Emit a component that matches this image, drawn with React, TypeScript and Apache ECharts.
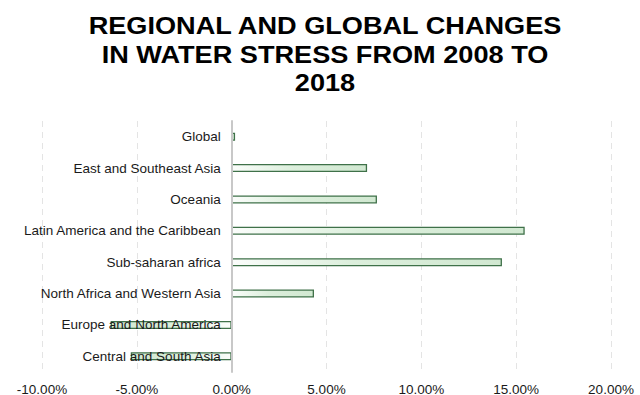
import React, { useEffect, useRef } from "react";
import * as echarts from "echarts";

const TITLE = "REGIONAL AND GLOBAL CHANGES\nIN WATER STRESS FROM 2008 TO\n2018";
const categories = [
  "Central and South Asia",
  "Europe and North America",
  "North Africa and Western Asia",
  "Sub-saharan africa",
  "Latin America and the Caribbean",
  "Oceania",
  "East and Southeast Asia",
  "Global",
];
const values = [-5.32, -6.38, 4.34, 14.25, 15.45, 7.66, 7.14, 0.18];
const xMin = -10;
const xMax = 20;
const xInterval = 5;

const FONT = "'Liberation Sans', Arial, Helvetica, sans-serif";
const GRID_LEFT = 42;
const GRID_RIGHT = 29;
const W = 640;

function barFill(v: number) {
  const stops = [
    { offset: 0, color: "#fbfdfb" },
    { offset: 0.45, color: "#dcefdc" },
    { offset: 1, color: "#d1e8d1" },
  ];
  const s = v >= 0 ? stops : stops.map((c) => ({ offset: 1 - c.offset, color: c.color })).reverse();
  return new echarts.graphic.LinearGradient(0, 0, 1, 0, s);
}

export default function App() {
  const ref = useRef<HTMLDivElement>(null);
  useEffect(() => {
    if (!ref.current) return;
    const chart = echarts.init(ref.current, null, { renderer: "svg" });
    const plotW = W - GRID_LEFT - GRID_RIGHT;
    const zeroOffset = ((0 - xMin) / (xMax - xMin)) * plotW;
    chart.setOption({
      animation: false,
      backgroundColor: "#ffffff",
      graphic: [
        {
          type: "text",
          x: 325,
          y: 12,
          scaleX: 1.18,
          style: {
            text: TITLE,
            font: "bold 23px " + FONT,
            fill: "#000000",
            align: "center",
            verticalAlign: "top",
            lineHeight: 28.5,
          },
        },
      ],
      grid: { left: GRID_LEFT, right: GRID_RIGHT, top: 121, bottom: 23, containLabel: false, outerBoundsMode: "none" },
      xAxis: {
        type: "value",
        min: xMin,
        max: xMax,
        interval: xInterval,
        axisLine: { show: false },
        axisTick: { show: false },
        axisLabel: {
          formatter: (v: number) => v.toFixed(2) + "%",
          fontFamily: FONT,
          fontSize: 13.5,
          color: "#1a1a1a",
          margin: 10,
        },
        splitLine: { show: true, lineStyle: { type: [6, 5], color: "#e4e4e4", width: 1 } },
      },
      yAxis: {
        type: "category",
        data: categories,
        offset: -zeroOffset,
        z: 5,
        axisLine: { show: true, onZero: false, lineStyle: { color: "#c8c8c8", width: 2 } },
        axisTick: { show: false },
        axisLabel: { fontFamily: FONT, fontSize: 13.5, color: "#1a1a1a", margin: 11 },
        splitLine: { show: false },
      },
      series: [
        {
          type: "bar",
          barWidth: 8,
          data: values.map((v) => ({
            value: v,
            itemStyle: { color: barFill(v), borderColor: "#3f7149", borderWidth: 1.3 },
          })),
          z: 1,
        },
      ],
    });
    return () => chart.dispose();
  }, []);
  return <div ref={ref} style={{ width: 640, height: 395, position: "absolute", left: 0, top: 0 }} />;
}
